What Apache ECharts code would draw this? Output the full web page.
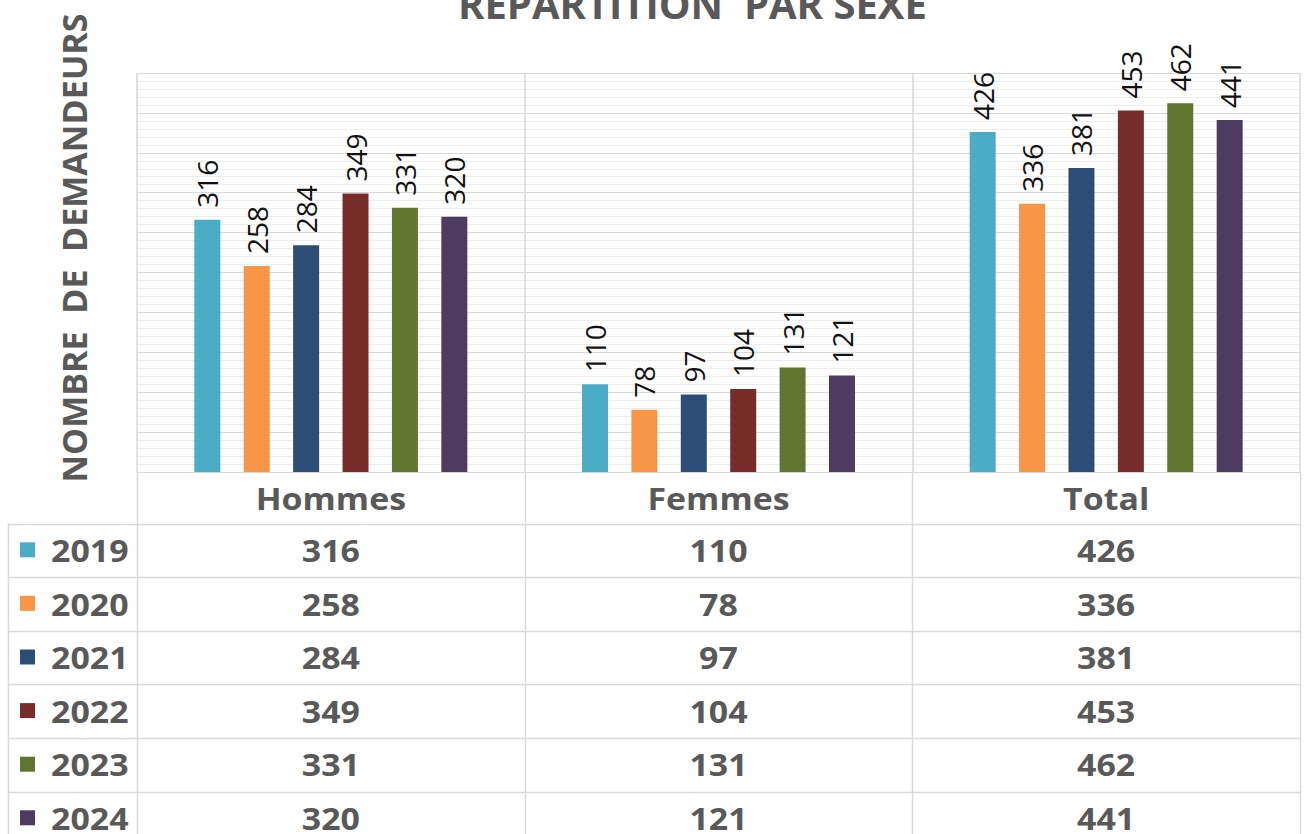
<!DOCTYPE html>
<html>
<head>
<meta charset="utf-8">
<script src="https://cdn.jsdelivr.net/npm/echarts@6/dist/echarts.min.js"></script>
<style>
html,body{margin:0;padding:0;background:#fff;}
#chart{width:1306px;height:834px;}
</style>
</head>
<body>
<div id="chart"></div>
<script>
// ---- data ----
const categories = ['Hommes', 'Femmes', 'Total'];
const years = ['2019', '2020', '2021', '2022', '2023', '2024'];
const hommes = [316, 258, 284, 349, 331, 320];
const femmes = [110, 78, 97, 104, 131, 121];
const total = [426, 336, 381, 453, 462, 441];
const colors = ['#4BACC6', '#F79646', '#2C4D75', '#772C2A', '#5F7530', '#4D3B62'];
const titleText = 'REPARTITION  PAR SEXE';
const yName = 'NOMBRE  DE  DEMANDEURS';

// ---- layout ----
const G = {left: 137, right: 6, top: 73, bottom: 362};
const W = 1306, H = 834;
const tableLeft = 8;
const headerBottom = 523.5;
const rowH = 53.6;
const textColor = '#595959';
const gridColor = '#D9D9D9';
const tFont = 'Open Sans';
const tSize = 30;
const tScale = 1.13;

const chart = echarts.init(document.getElementById('chart'), null, {renderer: 'svg'});

const series = years.map((y, i) => ({
  name: y,
  type: 'bar',
  data: [hommes[i], femmes[i], total[i]],
  barWidth: 26,
  barGap: '90%',
  itemStyle: {color: colors[i]},
  label: {
    show: true,
    position: 'top',
    rotate: 90,
    distance: 12,
    align: 'left',
    verticalAlign: 'middle',
    fontFamily: 'Open Sans',
    fontSize: 28,
    color: '#111111'
  }
}));

chart.setOption({
  animation: false,
  backgroundColor: '#ffffff',
  title: {
    text: titleText,
    left: 453,
    top: -22,
    textStyle: {fontFamily: 'Open Sans', fontWeight: 'bold', fontSize: 40, color: textColor}
  },
  grid: {left: G.left, right: G.right, top: G.top, bottom: G.bottom, containLabel: false},
  xAxis: {
    type: 'category',
    data: categories,
    axisTick: {show: false},
    axisLine: {show: true, lineStyle: {color: gridColor, width: 1}},
    axisLabel: {show: false},
    splitLine: {show: true, lineStyle: {color: gridColor, width: 1.5}}
  },
  yAxis: {
    type: 'value',
    min: 0, max: 500, interval: 50,
    axisLine: {show: false},
    axisTick: {show: false},
    axisLabel: {show: false},
    splitLine: {show: true, lineStyle: {color: '#D9D9D9', width: 1}},
    minorTick: {show: false, splitNumber: 5},
    minorSplitLine: {show: true, lineStyle: {color: '#EDEDED', width: 1}}
  },
  series: series
});

// ---- data table (built from the arrays, positions from the axis scale) ----
function cellText(x, y, text, align) {
  return {type: 'text', silent: true, x: x, y: y, scaleX: tScale,
    style: {text: text, fontFamily: tFont, fontWeight: 'bold', fontSize: tSize, lineHeight: 26,
      fill: textColor, align: align, verticalAlign: 'middle'}};
}
function buildTable() {
  const els = [];
  const xs = categories.map(c => chart.convertToPixel({xAxisIndex: 0}, c));
  const xLeft = G.left, xRight = W - G.right;
  const catW = (xRight - xLeft) / categories.length;
  const tableBottom = H + 20;
  const axisY = H - G.bottom;
  // header row: category names
  categories.forEach((c, j) => {
    els.push(cellText(xs[j], (axisY + headerBottom) / 2 + 1, c, 'center'));
  });
  // horizontal lines
  for (let i = 0; i <= years.length; i++) {
    const y = Math.round(headerBottom + i * rowH) + 0.5;
    els.push({type: 'line', silent: true, shape: {x1: tableLeft, y1: y, x2: xRight, y2: y},
      style: {stroke: gridColor, lineWidth: 1.5}});
  }
  // vertical lines below plot
  const vx = [tableLeft];
  for (let k = 0; k <= categories.length; k++) vx.push(xLeft + k * catW);
  vx.forEach((x, k) => {
    const y1 = k === 0 ? headerBottom : axisY;
    els.push({type: 'line', silent: true, shape: {x1: Math.round(x) + 0.5, y1: y1, x2: Math.round(x) + 0.5, y2: tableBottom},
      style: {stroke: gridColor, lineWidth: 1.5}});
  });
  // rows
  years.forEach((yr, i) => {
    const cy = headerBottom + (i + 0.5) * rowH;
    els.push({type: 'rect', silent: true, shape: {x: 20, y: cy - 8, width: 15, height: 15},
      style: {fill: colors[i]}});
    els.push(cellText(51, cy, yr, 'left'));
    const vals = [hommes[i], femmes[i], total[i]];
    vals.forEach((v, j) => {
      els.push(cellText(xs[j], cy, String(v), 'center'));
    });
  });
  // y axis name
  els.push({type: 'text', silent: true, x: 74, y: 248, rotation: Math.PI / 2,
    style: {text: yName, fontFamily: 'Open Sans', fontWeight: 'bold', fontSize: 34, fill: textColor,
      align: 'center', verticalAlign: 'middle'}});
  chart.setOption({graphic: {elements: els}});
}
buildTable();
</script>
</body>
</html>
